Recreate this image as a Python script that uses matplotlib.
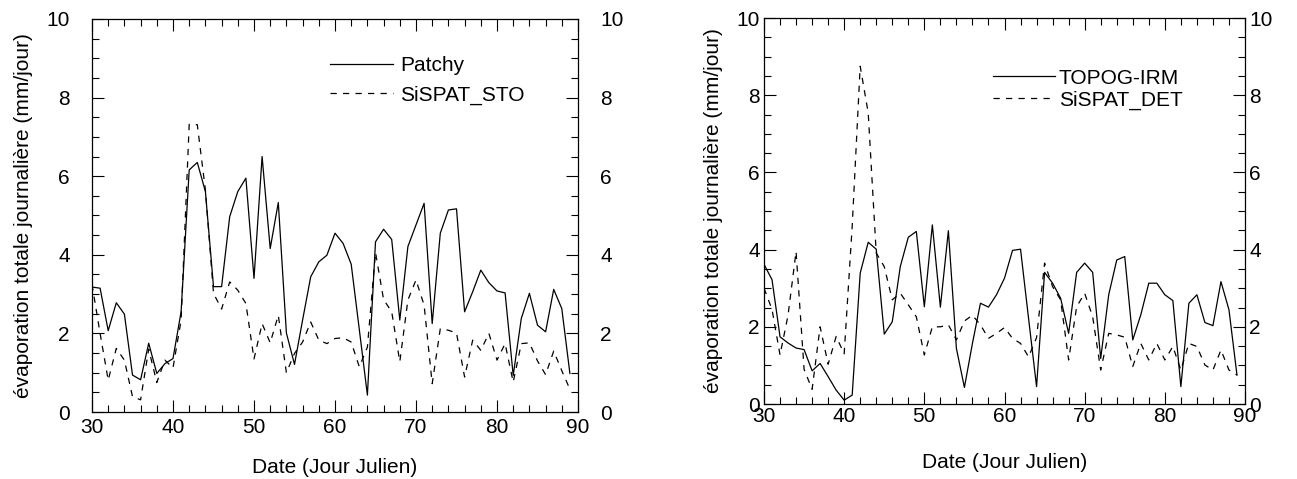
import matplotlib
matplotlib.use('Agg')
import matplotlib.pyplot as plt
from matplotlib.ticker import MultipleLocator

plt.rcParams['font.family'] = ['Liberation Sans', 'DejaVu Sans']
plt.rcParams['lines.scale_dashes'] = False

days = list(range(30, 90))

patchy = [3.18, 3.15, 2.07, 2.78, 2.49, 0.94, 0.82, 1.75, 0.98, 1.23,
          1.36, 2.55, 6.16, 6.35, 5.61, 3.19, 3.19, 4.97, 5.61, 5.95,
          3.40, 6.50, 4.16, 5.33, 2.01, 1.21, 2.34, 3.44, 3.82, 3.99,
          4.55, 4.29, 3.76, 2.10, 0.43, 4.33, 4.65, 4.39, 2.34, 4.21,
          4.76, 5.31, 2.25, 4.55, 5.14, 5.17, 2.55, 3.06, 3.61, 3.29,
          3.08, 3.03, 0.93, 2.38, 3.02, 2.21, 2.04, 3.12, 2.63, 0.98]

sispat_sto = [3.25, 2.00, 0.81, 1.62, 1.32, 0.39, 0.31, 1.60, 0.75, 1.32,
              1.12, 2.34, 7.32, 7.31, 5.65, 3.02, 2.62, 3.31, 3.10, 2.76,
              1.35, 2.25, 1.76, 2.46, 1.00, 1.49, 1.78, 2.29, 1.83, 1.74,
              1.87, 1.89, 1.78, 1.15, 1.65, 4.06, 2.86, 2.55, 1.28, 2.85,
              3.36, 2.72, 0.72, 2.12, 2.08, 2.01, 0.89, 1.83, 1.57, 2.00,
              1.32, 1.74, 0.76, 1.74, 1.76, 1.30, 0.95, 1.55, 1.05, 0.58]

topog_irm = [3.62, 3.22, 1.74, 1.58, 1.45, 1.41, 0.86, 1.05, 0.71, 0.36,
             0.10, 0.23, 3.39, 4.19, 4.01, 1.81, 2.13, 3.56, 4.32, 4.47,
             2.52, 4.64, 2.51, 4.49, 1.44, 0.43, 1.57, 2.61, 2.51, 2.83,
             3.26, 3.98, 4.01, 2.22, 0.45, 3.41, 3.13, 2.74, 1.83, 3.41,
             3.65, 3.41, 1.18, 2.83, 3.73, 3.82, 1.66, 2.31, 3.13, 3.13,
             2.83, 2.68, 0.45, 2.61, 2.83, 2.11, 2.03, 3.17, 2.44, 0.75]

sispat_det = [3.00, 2.45, 1.27, 2.30, 3.95, 0.90, 0.38, 2.00, 1.03, 1.75,
              1.30, 4.60, 8.75, 7.54, 3.91, 3.56, 2.70, 2.87, 2.57, 2.26,
              1.27, 2.00, 2.00, 2.05, 1.66, 2.15, 2.30, 2.05, 1.70, 1.83,
              1.98, 1.70, 1.57, 1.22, 1.72, 3.65, 3.04, 2.70, 1.14, 2.52,
              2.87, 2.26, 0.88, 1.83, 1.79, 1.73, 0.97, 1.57, 1.14, 1.57,
              1.14, 1.49, 0.88, 1.57, 1.49, 1.01, 0.88, 1.40, 0.88, 0.75]

ylabel = "évaporation totale journalière (mm/jour)"
xlabel = "Date (Jour Julien)"

W, H = 1297, 479
fig = plt.figure(figsize=(W / 100, H / 100), dpi=100)
ax1 = fig.add_axes([92 / W, (H - 412) / H, 486 / W, 393 / H])
ax2 = fig.add_axes([764 / W, (H - 404) / H, 481 / W, 386 / H])

FS = 15
DASH = (4.5, 4.5)


def style(ax, lpad, bpad):
    ax.set_xlim(30, 90)
    ax.set_ylim(0, 10)
    ax.xaxis.set_major_locator(MultipleLocator(10))
    ax.xaxis.set_minor_locator(MultipleLocator(2))
    ax.yaxis.set_major_locator(MultipleLocator(2))
    ax.yaxis.set_minor_locator(MultipleLocator(0.5))
    ax.tick_params(which='both', direction='in', top=True, right=True,
                   labelright=True, width=0.8, labelsize=FS, color='black')
    ax.tick_params(which='major', length=8.5)
    ax.tick_params(which='minor', length=5)
    ax.tick_params(axis='y', which='major', pad=lpad)
    ax.tick_params(axis='x', which='major', pad=bpad)
    for sp in ax.spines.values():
        sp.set_linewidth(0.9)
    return ax


style(ax1, 16, 4.5)
style(ax2, 3, 2.0)

ax1.plot(days, patchy, color='black', lw=0.9, label='Patchy')
ax1.plot(days, sispat_sto, color='black', lw=0.9, dashes=DASH, label='SiSPAT_STO')
ax2.plot(days, topog_irm, color='black', lw=0.9, label='TOPOG-IRM')
ax2.plot(days, sispat_det, color='black', lw=0.9, dashes=DASH, label='SiSPAT_DET')

ax1.legend(loc='upper left', bbox_to_anchor=(0.49, 0.906), frameon=False,
           handlelength=3.03, handletextpad=0.34, borderpad=0, borderaxespad=0,
           labelspacing=0.5, fontsize=FS)
ax2.legend(loc='upper left', bbox_to_anchor=(0.476, 0.869), frameon=False,
           handlelength=3.0, handletextpad=0.15, borderpad=0, borderaxespad=0,
           labelspacing=0.15, fontsize=FS)

ax1.set_ylabel(ylabel, fontsize=FS)
ax1.yaxis.set_label_coords(-0.121, 0.5)
ax1.set_xlabel(xlabel, fontsize=FS)
ax1.xaxis.set_label_coords(0.5, -0.117)

ax2.set_ylabel(ylabel, fontsize=FS)
ax2.yaxis.set_label_coords(-0.085, 0.5)
ax2.set_xlabel(xlabel, fontsize=FS)
ax2.xaxis.set_label_coords(0.5, -0.127)

fig.savefig('out.png', dpi=100)
